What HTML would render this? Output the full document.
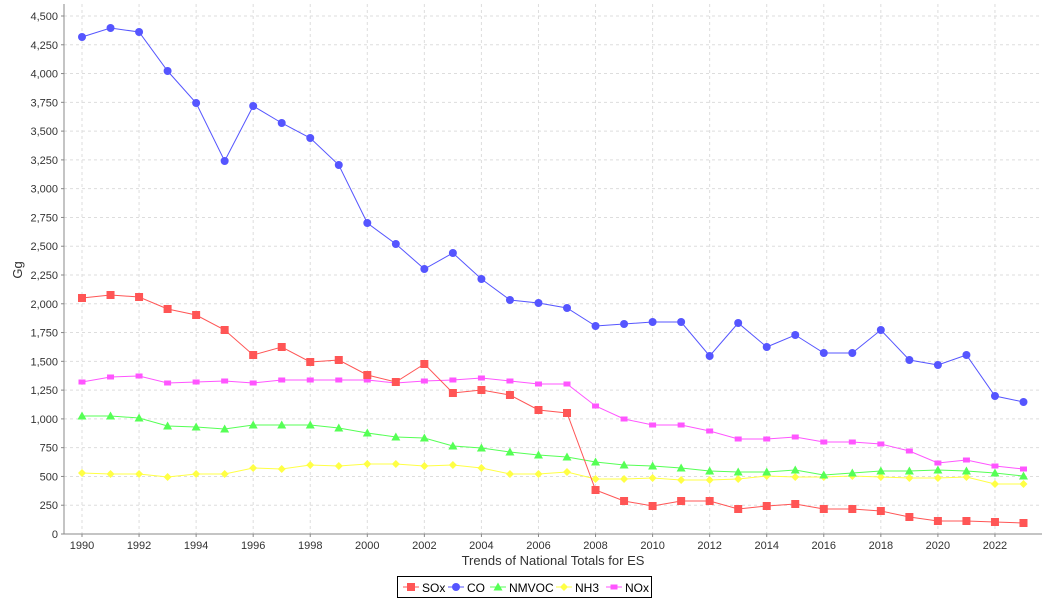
<!DOCTYPE html>
<html><head><meta charset="utf-8"><style>
html,body{margin:0;padding:0;background:#fff;}
svg{display:block;font-family:"Liberation Sans","DejaVu Sans",sans-serif;}
</style></head><body>
<svg id="c" width="1050" height="600" xmlns="http://www.w3.org/2000/svg"></svg>
<script>
const s=document.getElementById('c');const NS='http://www.w3.org/2000/svg';
function el(t,a,txt){const e=document.createElementNS(NS,t);for(const k in a)e.setAttribute(k,a[k]);if(txt!==undefined)e.textContent=txt;s.appendChild(e);return e;}
const L=64,R=1042,T=4,B=534,sc=518/4500;
const X=y=>82+(y-1990)*28.53;
// grid
for(let v=0;v<=4500;v+=250){const y=B-v*sc;
 if(v>0)el('line',{x1:L,x2:R,y1:y,y2:y,stroke:'#ddd','stroke-dasharray':'3,3'});
 el('line',{x1:L-3,x2:L,y1:y,y2:y,stroke:'#888'});
 el('text',{x:58,y:y+4,'text-anchor':'end','font-size':'11',fill:'#333'},v.toLocaleString('en-US'));}
for(let yr=1990;yr<=2023;yr+=2){const x=X(yr);
 el('line',{x1:x,x2:x,y1:T,y2:B,stroke:'#ddd','stroke-dasharray':'3,3'});
 el('line',{x1:x,x2:x,y1:B,y2:B+3,stroke:'#888'});
 el('text',{x:x,y:B+15,'text-anchor':'middle','font-size':'11',fill:'#333'},yr);}
el('line',{x1:L,x2:L,y1:T,y2:B,stroke:'#888'});
el('line',{x1:L,x2:R,y1:B,y2:B,stroke:'#888'});
el('text',{x:553,y:565,'text-anchor':'middle','font-size':'13',fill:'#333'},'Trends of National Totals for ES');
el('text',{x:22,y:270,'text-anchor':'middle','font-size':'13',fill:'#333',transform:'rotate(-90 22 270)'},'Gg');
const D={
nh3:[473,474,474,477,474,474,468,469,465,466,464,464,466,465,468,474,474,472,479,479,478,480,480,479,476,477,477,476,477,478,478,477,484,484],
nmvoc:[416,416,418,426,427,429,425,425,425,428,433,437,438,446,448,452,455,457,462,465,466,468,471,472,472,470,475,473,471,471,470,471,473,476],
nox:[382,377,376,383,382,381,383,380,380,380,380,383,381,380,378,381,384,384,406,419,425,425,431,439,439,437,442,442,444,451,463,460,466,469],
sox:[298,295,297,309,315,330,355,347,362,360,375,382,364,393,390,395,410,413,490,501,506,501,501,509,506,504,509,509,511,517,521,521,522,523],
co:[37,28,32,71,103,161,106,123,138,165,223,244,269,253,279,300,303,308,326,324,322,322,356,323,347,335,353,353,330,360,365,355,396,402]};
function mk(type,x,y,c){
 if(type==='sq')el('rect',{x:x-4,y:y-4,width:8,height:8,fill:c});
 else if(type==='ci')el('circle',{cx:x,cy:y,r:4,fill:c});
 else if(type==='tr')el('polygon',{points:`${x},${y-4.5} ${x+4.5},${y+3.5} ${x-4.5},${y+3.5}`,fill:c});
 else if(type==='di')el('polygon',{points:`${x},${y-4} ${x+4},${y} ${x},${y+4} ${x-4},${y}`,fill:c});
 else if(type==='rs')el('rect',{x:x-3.5,y:y-2.5,width:7,height:5,fill:c});}
const S=[['nh3','#ffff44','di'],['nmvoc','#55ff55','tr'],['nox','#ff55ff','rs'],['sox','#ff5555','sq'],['co','#5555ff','ci']];
for(const [k,c,m] of S){const pts=D[k].map((y,i)=>X(1990+i)+','+y).join(' ');
 el('polyline',{points:pts,fill:'none',stroke:c,'stroke-width':1});
 D[k].forEach((y,i)=>mk(m,X(1990+i),y,c));}
// legend
el('rect',{x:397.5,y:576.5,width:254,height:21,fill:'#fff',stroke:'#000'});
const LG=[['SOx','#ff5555','sq',403],['CO','#5555ff','ci',448],['NMVOC','#55ff55','tr',490],['NH3','#ffff44','di',556],['NOx','#ff55ff','rs',606]];
for(const [t,c,m,x] of LG){el('line',{x1:x,x2:x+16,y1:587,y2:587,stroke:c});mk(m,x+8,587,c);
 el('text',{x:x+19,y:592,'font-size':'12',fill:'#000'},t);}
</script>
</body></html>
